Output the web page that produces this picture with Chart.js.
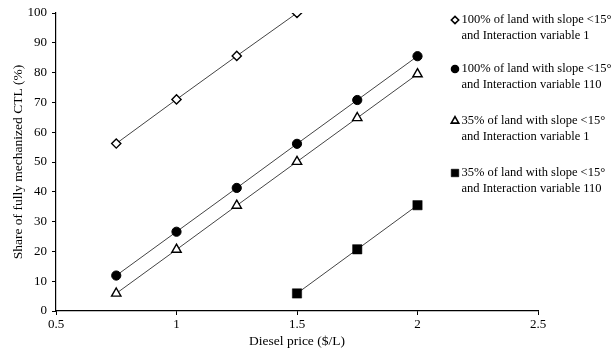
<!DOCTYPE html>
<html>
<head>
<meta charset="utf-8">
<script src="https://cdn.jsdelivr.net/npm/chart.js@4/dist/chart.umd.min.js"></script>
<style>
  html, body { margin: 0; padding: 0; background: #fff; }
  #wrap { position: relative; width: 614px; height: 357px; }
</style>
</head>
<body>
<div id="wrap"><canvas id="c" width="614" height="357"></canvas></div>
<script>
// Diesel price ($/L) for each scenario
const pricesA = [0.75, 1.0, 1.25, 1.5];
const pricesB = [0.75, 1.0, 1.25, 1.5, 1.75, 2.0];
const pricesC = [0.75, 1.0, 1.25, 1.5, 1.75, 2.0];
const pricesD = [1.5, 1.75, 2.0];

// Share of fully mechanized CTL (%)
const share100Int1   = [56.2, 71.0, 85.6, 100.0];
const share100Int110 = [11.9, 26.6, 41.3, 56.1, 70.8, 85.5];
const share35Int1    = [5.9, 20.6, 35.4, 50.1, 64.8, 79.5];
const share35Int110  = [5.9, 20.7, 35.5];

const seriesLabels = [
  ['100% of land with slope <15°', 'and Interaction variable 1'],
  ['100% of land with slope <15°', 'and Interaction variable 110'],
  ['35% of land with slope <15°', 'and Interaction variable 1'],
  ['35% of land with slope <15°', 'and Interaction variable 110']
];

const xTicks = [0.5, 1, 1.5, 2, 2.5];
const yTicks = [0, 10, 20, 30, 40, 50, 60, 70, 80, 90, 100];

const FONT = '"Liberation Serif", "Times New Roman", serif';

function pts(xs, ys) { return xs.map((x, i) => ({ x: x, y: ys[i] })); }

const styles = [
  { pointStyle: 'rectRot',  radius: 4.6, fill: '#ffffff', border: 1.4 },
  { pointStyle: 'circle',   radius: 4.6, fill: '#000000', border: 1 },
  { pointStyle: 'triangle', radius: 5.4, fill: '#ffffff', border: 1.4 },
  { pointStyle: 'rect',     radius: 6.6, fill: '#000000', border: 0.5 }
];

const dataSets = [
  pts(pricesA, share100Int1),
  pts(pricesB, share100Int110),
  pts(pricesC, share35Int1),
  pts(pricesD, share35Int110)
];

const datasets = dataSets.map((d, i) => ({
  label: seriesLabels[i].join(' '),
  data: d,
  showLine: true,
  borderColor: '#444444',
  borderWidth: 1,
  pointStyle: styles[i].pointStyle,
  pointRadius: styles[i].radius,
  pointHoverRadius: styles[i].radius,
  pointBackgroundColor: styles[i].fill,
  pointBorderColor: '#000000',
  pointBorderWidth: styles[i].border
}));

// Two-line legend drawn to the right of the plot
const sideLegend = {
  id: 'sideLegend',
  afterDraw(chart) {
    const ctx = chart.ctx;
    const rows = [20, 69, 121, 173];
    ctx.save();
    ctx.font = '12.5px ' + FONT;
    ctx.textAlign = 'left';
    ctx.textBaseline = 'middle';
    seriesLabels.forEach((lines, i) => {
      const y = rows[i];
      const s = styles[i];
      ctx.fillStyle = s.fill;
      ctx.strokeStyle = '#000';
      ctx.lineWidth = s.border + 0.2;
      Chart.helpers.drawPoint(ctx, {
        pointStyle: s.pointStyle,
        radius: s.radius * 0.8,
        borderWidth: s.border + 0.2
      }, 455, y);
      ctx.fillStyle = '#000';
      ctx.fillText(lines[0], 461.5, y);
      ctx.fillText(lines[1], 461.5, y + 15.5);
    });
    ctx.restore();
  }
};

new Chart(document.getElementById('c'), {
  type: 'scatter',
  data: { datasets: datasets },
  plugins: [sideLegend],
  options: {
    responsive: false,
    animation: false,
    devicePixelRatio: 1,
    layout: { padding: { left: 0, right: 76, top: 13, bottom: 0 } },
    plugins: { legend: { display: false }, tooltip: { enabled: false } },
    scales: {
      x: {
        type: 'linear',
        min: 0.5, max: 2.5,
        afterBuildTicks(scale) { scale.ticks = xTicks.map(v => ({ value: v })); },
        afterFit(scale) { scale.height = 46; },
        ticks: {
          color: '#000',
          font: { family: FONT, size: 13 },
          padding: 2,
          maxRotation: 0,
          callback: v => String(v)
        },
        grid: { display: true, drawOnChartArea: false, drawTicks: true, tickLength: 4, color: '#000', lineWidth: 1 },
        border: { display: true, color: '#000', width: 1.2 },
        title: {
          display: true,
          text: 'Diesel price ($/L)',
          color: '#000',
          font: { family: FONT, size: 13.5 },
          padding: { top: 0, bottom: 7 }
        }
      },
      y: {
        type: 'linear',
        min: 0, max: 100,
        afterBuildTicks(scale) { scale.ticks = yTicks.map(v => ({ value: v })); },
        afterFit(scale) { scale.width = 56; },
        ticks: {
          color: '#000',
          font: { family: FONT, size: 13 },
          padding: 5,
          callback: v => String(v)
        },
        grid: { display: true, drawOnChartArea: false, drawTicks: true, tickLength: 4, color: '#000', lineWidth: 1 },
        border: { display: true, color: '#000', width: 1.2 },
        title: {
          display: true,
          text: 'Share of fully mechanized CTL (%)',
          color: '#000',
          font: { family: FONT, size: 13.5 },
          padding: { top: 10, bottom: 0 }
        }
      }
    }
  }
});
</script>
</body>
</html>
